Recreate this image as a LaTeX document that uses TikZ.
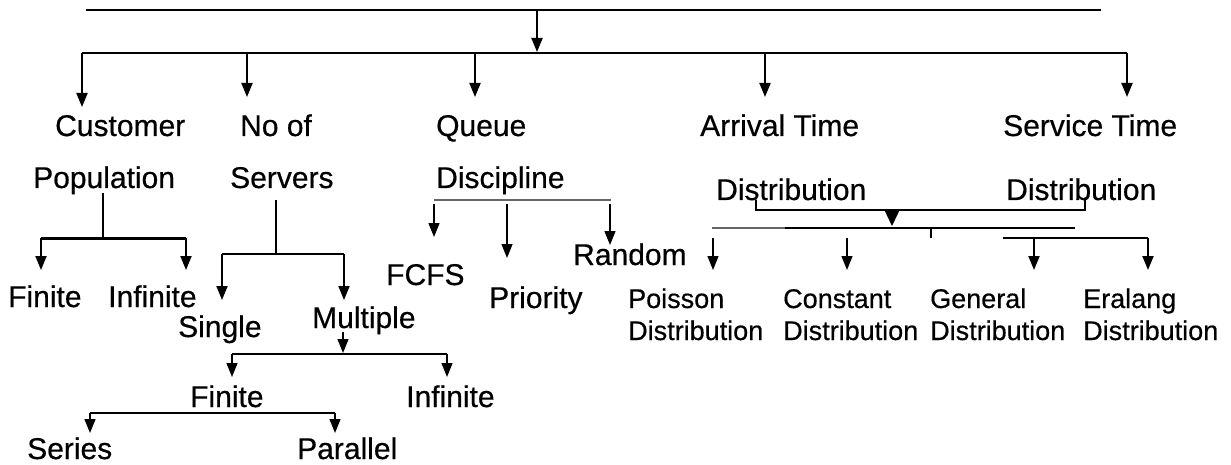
\documentclass[tikz,border=0pt]{standalone}
\usepackage{fontspec}
\setmainfont{Liberation Sans}[FakeBold=0.5]
\usetikzlibrary{arrows.meta}

\tikzset{
    ln/.style={line width=2pt},
    lnthin/.style={line width=1.3pt},
    arr/.style={-{Triangle[width=11pt,length=14pt]}},
    bigarr/.style={-{Triangle[width=15pt,length=16pt]}}
}

\begin{document}
\begin{tikzpicture}[x=1pt,y=-1pt]
\useasboundingbox (0,0) rectangle (1231,465);

\begin{scope}[every node/.style={anchor=base west,inner sep=0pt,font=\fontsize{30}{36}\selectfont}]
    \node (cust) at (55,136) {Customer};
    \node (noof) at (240,136) {No of};
    \node (queue) at (436,136) {Queue};
    \node (arr) at (700,136) {Arrival Time};
    \node (serv) at (1003,136) {Service Time};
    \node (pop) at (33,188) {Population};
    \node (servers) at (230,188) {Servers};
    \node (disc) at (436,188) {Discipline};
    \node (adist) at (716,200) {Distribution};
    \node (sdist) at (1006,200) {Distribution};
    \node (pfin) at (8,307) {Finite};
    \node (pinf) at (108,307) {Infinite};
    \node (single) at (178,337) {Single};
    \node (multi) at (312,328) {Multiple};
    \node (fcfs) at (386,285) {FCFS};
    \node (prio) at (489,308) {Priority};
    \node (rand) at (573,265) {Random};
    \node (mfin) at (190,407) {Finite};
    \node (minf) at (406,407) {Infinite};
    \node (series) at (27,459) {Series};
    \node (par) at (297,459) {Parallel};
\end{scope}

\begin{scope}[every node/.style={anchor=base west,inner sep=0pt,align=left,font=\fontsize{27}{32}\selectfont}]
    \node (pois) at (628,340) {Poisson\\Distribution};
    \node (const) at (783,340) {Constant\\Distribution};
    \node (gen) at (930,340) {General\\Distribution};
    \node (eral) at (1083,340) {Eralang\\Distribution};
\end{scope}

\coordinate (t1) at (86,10);
\coordinate (t2) at (1101,10);
\coordinate (b1) at (82,53);
\coordinate (b2) at (1127,53);

\draw[ln] (t1) -- (t2);
\draw[ln,arr] (537,10) -- (537,52);
\draw[ln] (b1) -- (b2);
\draw[ln,arr] (b1) -- (82,107);
\draw[ln,arr] (247,53) -- (247,97);
\draw[ln,arr] (475,53) -- (475,97);
\draw[ln,arr] (765,53) -- (765,97);
\draw[ln,arr] (b2) -- (1127,97);

\draw[lnthin] (103,193) -- (103,238);
\draw[line width=3pt] (41,238) -- (186,238);
\draw[ln,arr] (41,238) -- (41,270);
\draw[ln,arr] (186,238) -- (186,270);

\draw[lnthin] (276,200) -- (276,254);
\draw[lnthin] (222,254) -- (344,254);
\draw[ln,arr] (222,254) -- (222,300);
\draw[ln,arr] (344,254) -- (344,300);

\draw[lnthin,black!60] (434,200) -- (611,200);
\draw[lnthin,arr] (434,204) -- (434,237);
\draw[lnthin,arr] (507,204) -- (507,258);
\draw[lnthin,arr] (610,204) -- (610,245);

\draw[lnthin,arr] (343,332) -- (343,353);
\draw[lnthin] (232,354) -- (447,354);
\draw[lnthin,arr] (232,354) -- (232,377);
\draw[lnthin,arr] (447,354) -- (447,377);

\draw[lnthin] (90,413) -- (335,413);
\draw[lnthin,arr] (90,413) -- (90,433);
\draw[lnthin,arr] (335,413) -- (335,433);

\draw[lnthin] (756,200) -- (756,210) -- (1085,210) -- (1085,200);
\draw[lnthin,bigarr] (892,210) -- (892,226);
\draw[lnthin,black!60] (712,228) -- (785,228);
\draw[ln] (785,228) -- (1075,228);
\draw[lnthin] (931,229) -- (931,238);
\draw[ln] (1003,238) -- (1148,238);
\draw[lnthin,arr] (713,238) -- (713,270);
\draw[lnthin,arr] (847,238) -- (847,270);
\draw[ln,arr] (1034,238) -- (1034,270);
\draw[ln,arr] (1148,238) -- (1148,270);
\end{tikzpicture}
\end{document}
